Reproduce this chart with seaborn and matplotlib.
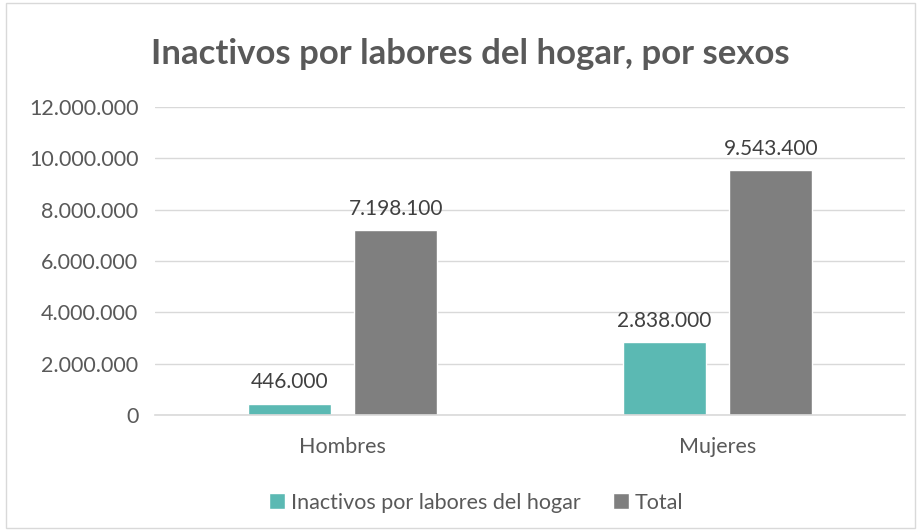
import pandas as pd
import seaborn as sns
import matplotlib.pyplot as plt
from matplotlib.patches import Rectangle
from matplotlib.ticker import FuncFormatter

sexos = ['Hombres', 'Mujeres']
series = ['Inactivos por labores del hogar', 'Total']
inactivos = [446000, 2838000]
total = [7198100, 9543400]

df = pd.DataFrame({
    'Sexo': sexos * 2,
    'Serie': [series[0]] * 2 + [series[1]] * 2,
    'Valor': inactivos + total,
})

sns.set_theme(style='white')
plt.rcParams['font.family'] = ['Lato', 'DejaVu Sans']
txt = '#595959'

fig = plt.figure(figsize=(9.19, 5.30), dpi=100)
ax = fig.add_axes([0.1687, 0.217, 0.816, 0.581])

palette = {series[0]: '#5BB9B3', series[1]: '#7F7F7F'}
sns.barplot(data=df, x='Sexo', y='Valor', hue='Serie', palette=palette,
            width=0.568, gap=0.22, ax=ax, saturation=1, legend=True)

ax.set_ylim(0, 12000000)
ax.set_yticks(range(0, 12000001, 2000000))
ax.yaxis.set_major_formatter(FuncFormatter(lambda v, p: f'{int(v):,}'.replace(',', '.')))
ax.grid(axis='y', color='#D9D9D9', linewidth=1)
ax.set_axisbelow(True)
for s in ['top', 'right', 'left']:
    ax.spines[s].set_visible(False)
ax.spines['bottom'].set_color('#D9D9D9')
ax.spines['bottom'].set_linewidth(1.2)
ax.tick_params(axis='both', length=0, labelcolor=txt)
ax.tick_params(axis='y', pad=12, labelsize=15.5)
ax.tick_params(axis='x', pad=16, labelsize=15.5)
ax.set_xlabel('')
ax.set_ylabel('')

for cont in ax.containers:
    ax.bar_label(cont, labels=[f'{int(v):,}'.replace(',', '.') for v in cont.datavalues],
                 padding=8, fontsize=15, color='#404040')

fig.suptitle('Inactivos por labores del hogar, por sexos', x=0.512, y=0.928,
             fontsize=25, fontweight='bold', color=txt)

ax.legend(loc='center', bbox_to_anchor=(0.428, -0.285), ncol=2, frameon=False,
          fontsize=15.5, labelcolor=txt, handlelength=0.75, handleheight=0.75,
          handletextpad=0.25, columnspacing=1.5)

fig.patches.append(Rectangle((0.006, 0.004), 0.99, 0.99, transform=fig.transFigure,
                             fill=False, edgecolor='#D9D9D9', linewidth=1))

fig.savefig('out.png', dpi=100)
